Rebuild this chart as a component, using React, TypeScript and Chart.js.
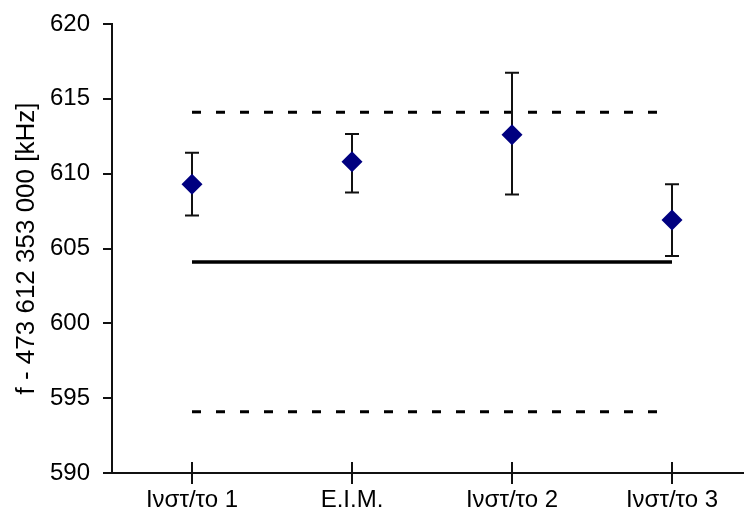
import React, { useEffect, useRef } from "react";
import { Chart, registerables } from "chart.js";

Chart.register(...registerables);

const categories = ["Ινστ/το 1", "E.I.M.", "Ινστ/το 2", "Ινστ/το 3"];
const positions = [1, 2, 3, 4];
const values = [609.3, 610.8, 612.6, 606.9];
const errHigh = [611.4, 612.65, 616.75, 609.3];
const errLow = [607.2, 608.75, 608.6, 604.5];
const refMean = [604.1, 604.1];
const refUpper = [614.1, 614.1];
const refLower = [594.1, 594.1];
const refX = [1, 4];
const yTicks = [590, 595, 600, 605, 610, 615, 620];

const FONT = "'Liberation Sans', Arial, sans-serif";

const errorBarPlugin = {
  id: "errorBars",
  beforeDatasetDraw(chart: any, args: any) {
    if (args.index !== 3) return;
    const { ctx, scales } = chart;
    const xs = scales.x;
    const ys = scales.y;
    ctx.save();
    ctx.strokeStyle = "#111";
    ctx.lineWidth = 2;
    for (let i = 0; i < values.length; i++) {
      const px = xs.getPixelForValue(positions[i]);
      const top = ys.getPixelForValue(errHigh[i]);
      const bot = ys.getPixelForValue(errLow[i]);
      ctx.beginPath();
      ctx.moveTo(px, top);
      ctx.lineTo(px, bot);
      ctx.moveTo(px - 7, top);
      ctx.lineTo(px + 7, top);
      ctx.moveTo(px - 7, bot);
      ctx.lineTo(px + 7, bot);
      ctx.stroke();
    }
    ctx.restore();
  },
  afterDraw(chart: any) {
    const { ctx, scales, chartArea } = chart;
    const xs = scales.x;
    ctx.save();
    ctx.strokeStyle = "#111";
    ctx.lineWidth = 2;
    for (const p of positions) {
      const px = Math.round(xs.getPixelForValue(p));
      ctx.beginPath();
      ctx.moveTo(px, chartArea.bottom - 11);
      ctx.lineTo(px, chartArea.bottom);
      ctx.stroke();
    }
    ctx.restore();
  },
};

export default function App() {
  const ref = useRef<HTMLCanvasElement>(null);
  useEffect(() => {
    document.body.style.margin = "0";
    const c = ref.current!;
    const chart = new Chart(c, {
      type: "scatter",
      data: {
        datasets: [
          {
            type: "line",
            data: refX.map((x, i) => ({ x, y: refUpper[i] })),
            borderColor: "#000",
            borderWidth: 3,
            borderDash: [9, 15],
            pointRadius: 0,
            order: 3,
          },
          {
            type: "line",
            data: refX.map((x, i) => ({ x, y: refLower[i] })),
            borderColor: "#000",
            borderWidth: 3,
            borderDash: [9, 15],
            pointRadius: 0,
            order: 3,
          },
          {
            type: "line",
            data: refX.map((x, i) => ({ x, y: refMean[i] })),
            borderColor: "#000",
            borderWidth: 3.5,
            pointRadius: 0,
            order: 3,
          },
          {
            data: positions.map((x, i) => ({ x, y: values[i] })),
            pointStyle: "rectRot",
            pointRadius: 10.5,
            backgroundColor: "#000080",
            borderColor: "#000080",
            borderWidth: 0,
            order: 0,
          },
        ],
      },
      options: {
        animation: false,
        responsive: true,
        maintainAspectRatio: false,
        layout: { autoPadding: false, padding: { top: 24, right: 0, bottom: 0, left: 0 } },
        plugins: { legend: { display: false }, tooltip: { enabled: false } },
        scales: {
          x: {
            type: "linear",
            min: 0.5,
            max: 4.45,
            afterBuildTicks: (s: any) => {
              s.ticks = positions.map((v) => ({ value: v }));
            },
            afterFit: (s: any) => {
              s.height = 50;
              s.paddingLeft = 0;
              s.paddingRight = 0;
            },
            grid: {
              drawOnChartArea: false,
              drawTicks: true,
              tickLength: 11,
              color: "#111",
              lineWidth: 2,
            },
            border: { display: true, color: "#111", width: 2 },
            ticks: {
              padding: 2,
              color: "#000",
              font: { family: FONT, size: 24 },
              maxRotation: 0,
              autoSkip: false,
              callback: (v: any) => categories[positions.indexOf(Number(v))] ?? "",
            },
          },
          y: {
            type: "linear",
            min: 590,
            max: 620,
            afterBuildTicks: (s: any) => {
              s.ticks = yTicks.map((v) => ({ value: v }));
            },
            afterFit: (s: any) => {
              s.width = 112;
              s.paddingTop = 0;
              s.paddingBottom = 0;
            },
            grid: {
              drawOnChartArea: false,
              drawTicks: true,
              tickLength: 9,
              color: "#111",
              lineWidth: 2,
            },
            border: { display: true, color: "#111", width: 2 },
            ticks: {
              padding: 13,
              color: "#000",
              font: { family: FONT, size: 24 },
            },
            title: {
              display: true,
              text: "f - 473 612 353 000 [kHz]",
              color: "#000",
              font: { family: FONT, size: 26 },
              padding: { top: 11, bottom: 0 },
            },
          },
        },
      },
      plugins: [errorBarPlugin],
    });
    return () => chart.destroy();
  }, []);
  return (
    <div style={{ width: 744, height: 523, position: "relative" }}>
      <canvas ref={ref} />
    </div>
  );
}
